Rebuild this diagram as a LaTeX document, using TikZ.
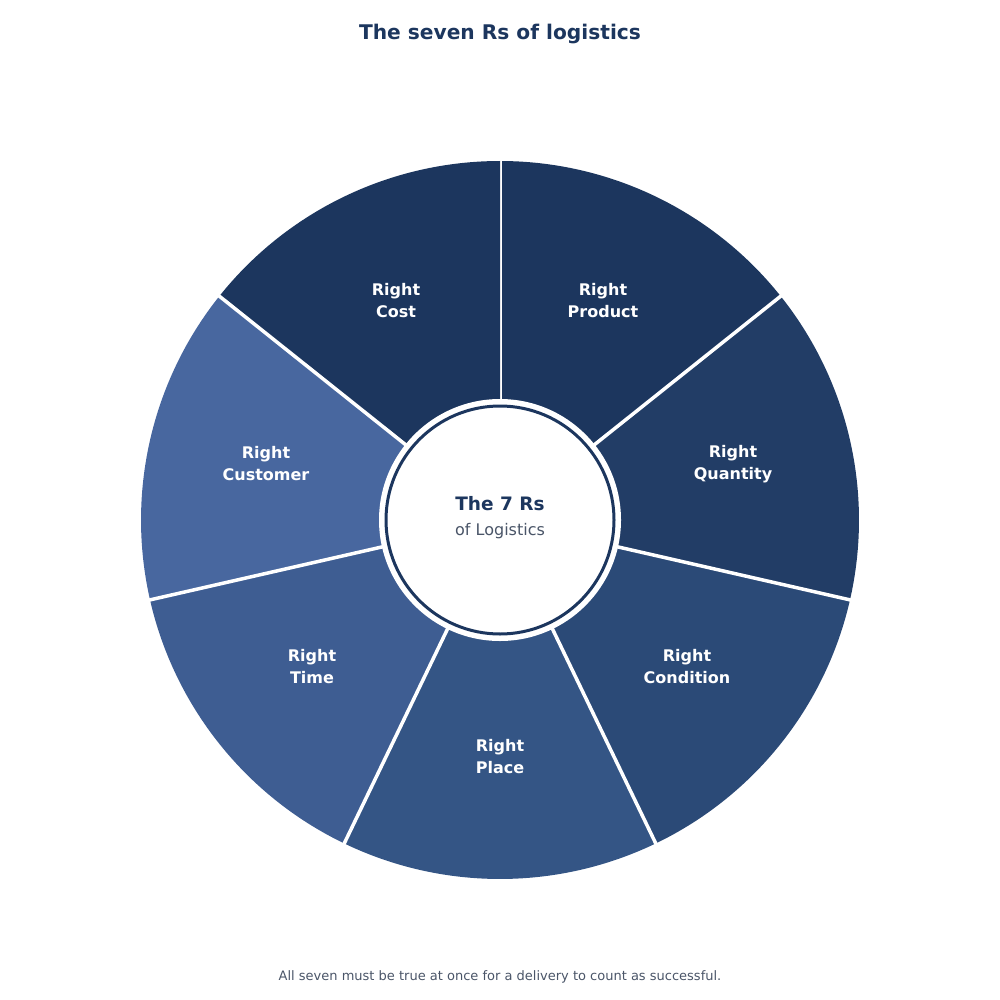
\documentclass[tikz,border=0pt]{standalone}
\usepackage{fontspec}
\setmainfont{DejaVu Sans}
\usetikzlibrary{calc}
\begin{document}
\begin{tikzpicture}[x=1pt,y=-1pt,
  sec/.style={draw=white,line width=3.5pt,line join=round},
  lab/.style={text=white,font=\bfseries\fontsize{16}{22}\selectfont,align=center}]
\definecolor{c1}{HTML}{1C365E}\definecolor{c2}{HTML}{223D66}\definecolor{c3}{HTML}{2B4A77}
\definecolor{c4}{HTML}{345585}\definecolor{c5}{HTML}{3E5D92}\definecolor{c6}{HTML}{48679F}
\definecolor{gr}{HTML}{4A5568}
\useasboundingbox (0,0) rectangle (1000,1000);
\coordinate (O) at (500,520);
\foreach \i/\c in {0/c1,1/c2,2/c3,3/c4,4/c5,5/c6,6/c1}{
  \pgfmathsetmacro\a{90-\i*360/7}
  \pgfmathsetmacro\b{90-(\i+1)*360/7}
  \fill[\c] (O) -- ++({cos(\a)*359},{-sin(\a)*359}) arc[start angle=-\a,end angle=-\b,radius=359] -- cycle;
  \draw[sec] (O) -- ++({cos(\a)*361},{-sin(\a)*361});
}
\node[lab] (s0) at (603,301) {Right\\Product};
\node[lab] (s1) at (733,464) {Right\\Quantity};
\node[lab] (s2) at (687,667) {Right\\Condition};
\node[lab] (s3) at (500,757) {Right\\Place};
\node[lab] (s4) at (312,667) {Right\\Time};
\node[lab] (s5) at (266,464) {Right\\Customer};
\node[lab] (s6) at (396,301) {Right\\Cost};
\fill[white] (O) circle[radius=121];
\draw[c1,line width=3pt,fill=white] (O) circle[radius=114];
\node[text=c1,font=\bfseries\fontsize{18.5}{22}\selectfont] (t1) at (500,504) {The 7 Rs};
\node[text=gr,font=\fontsize{16}{18}\selectfont] (t2) at (500,531) {of Logistics};
\node[text=c1,font=\bfseries\fontsize{20.2}{24}\selectfont] (title) at (500,34) {The seven Rs of logistics};
\node[text=gr,font=\fontsize{13}{15}\selectfont] (foot) at (500,977) {All seven must be true at once for a delivery to count as successful.};
\end{tikzpicture}
\end{document}
